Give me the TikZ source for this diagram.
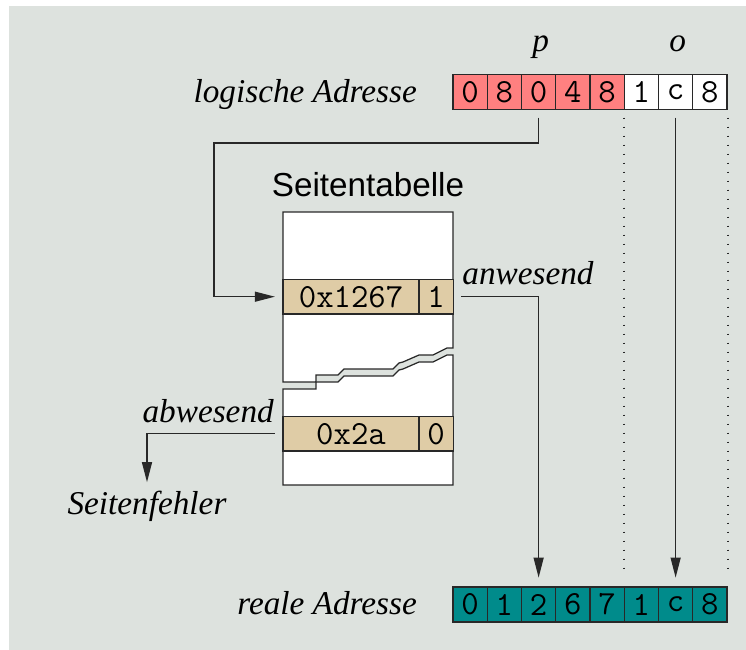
\documentclass[tikz,border=0pt]{standalone}
\usepackage{fontspec}
\setmainfont{Liberation Serif}
\setsansfont{Liberation Sans}
\usetikzlibrary{calc,arrows.meta}
\definecolor{bgGray}{RGB}{221,226,222}
\definecolor{pageRed}{RGB}{255,128,128}
\definecolor{realTeal}{RGB}{0,139,139}
\definecolor{entryTan}{RGB}{223,204,166}
\definecolor{lineGray}{RGB}{40,40,40}
\pgfkeys{
 /addrRow/.is family, /addrRow,
 name/.estore in = \arName,
 ca/.estore in = \arCA,
 cb/.estore in = \arCB,
 split/.estore in = \arSplit,
 default/.style = {name=c, ca=white, cb=white, split=8}
}
\newcommand{\addrRow}[3][]{
    \pgfkeys{/addrRow, default, #1}%
    \foreach \d [count=\i from 0] in {#3} {
        \ifnum\i<\arSplit\relax\def\arFill{\arCA}\else\def\arFill{\arCB}\fi
        \node[cell, fill=\arFill] (\arName\i) at ($#2 + (\i*34.25 + 17.125, 0)$) {\d};
    }
}
\newcommand{\tabBreak}[1]{
    (283,{382+#1}) -- (316,{382+#1}) -- (316,{375+#1}) -- (338,{375+#1})
    -- (344,{369+#1}) -- (393,{369+#1}) -- (399,{363+#1}) -- (403,{362+#1})
    -- (419,{355+#1}) -- (433,{355+#1}) -- (447,{348+#1}) -- (453,{348+#1})
}

\begin{document}
\begin{tikzpicture}[x=0.4pt, y=-0.4pt, line width=0.5pt,
    cell/.style={draw=lineGray, minimum width=13.7pt, minimum height=14pt,
        inner sep=0pt, font=\fontsize{13.5}{15}\selectfont\ttfamily},
    entry/.style={cell, fill=entryTan, minimum height=13.9pt},
    lbl/.style={inner sep=0pt, font=\fontsize{13.3}{16}\selectfont\itshape},
    tabpiece/.style={draw=lineGray, fill=white},
    arr/.style={draw=lineGray, -{Triangle[length=8pt, width=4pt]}},
    dots/.style={draw=lineGray, line width=0.7pt, dash pattern=on 0.7pt off 2.9pt}]
    \useasboundingbox (0,0) rectangle (746,650);
    \fill[bgGray] (9,6) rectangle (746,650);

    \addrRow[name=l, ca=pageRed, cb=white, split=5]{(453,92)}{0,8,0,4,8,1,c,8}
    \addrRow[name=r, ca=realTeal, cb=realTeal]{(453,604.5)}{0,1,2,6,7,1,c,8}

    \node[lbl, anchor=base east] (logAdr) at ([xshift=-14pt]l0.base west) {logische Adresse};
    \node[lbl, anchor=base east] (realAdr) at ([xshift=-14pt]r0.base west) {reale Adresse};
    \node[lbl, anchor=base] (pName) at ($(l2.north) + (2,-22)$) {p};
    \node[lbl, anchor=base] (oName) at ($(l6.north) + (2,-22)$) {o};

    \draw[tabpiece] \tabBreak{0} -- (453,212) -- (283,212) -- cycle;
    \draw[tabpiece] \tabBreak{7} -- (453,485) -- (283,485) -- cycle;
    \node[anchor=base, inner sep=0pt, font=\fontsize{13.3}{16}\selectfont\sffamily]
        (tabName) at (368,197) {Seitentabelle};

    \node[entry, minimum width=54.4pt] (entA) at (351,296.7) {0x1267};
    \node[entry] (entAbit) at (436,296.7) {1};
    \node[entry, minimum width=54.4pt] (entB) at (351,433.7) {0x2a};
    \node[entry] (entBbit) at (436,433.7) {0};

    \node[lbl, anchor=base west] (present) at ($(entAbit.east) + (8,-12)$) {anwesend};
    \node[lbl, anchor=base east] (absent) at ($(entB.west) + (-8,-11)$) {abwesend};
    \node[lbl, anchor=base] (fault) at (147,515) {Seitenfehler};

    \coordinate (bendP) at (214,143);
    \draw[arr, shorten <=3pt, shorten >=3pt] (l2.south) |- (bendP) |- (entA.west);
    \draw[arr, shorten <=3pt, shorten >=3.5pt] (entAbit.east) -| (r2.north);
    \draw[arr, shorten <=3pt, shorten >=3.5pt] (l6.south) -- (r6.north);
    \draw[arr, shorten <=3pt, shorten >=3.5pt] (entB.west) -| (fault.north);
    \draw[dots, shorten <=3pt, shorten >=4pt] (l5.south west) -- (r5.north west);
    \draw[dots, shorten <=3pt, shorten >=4pt] (l7.south east) -- (r7.north east);
\end{tikzpicture}
\end{document}
